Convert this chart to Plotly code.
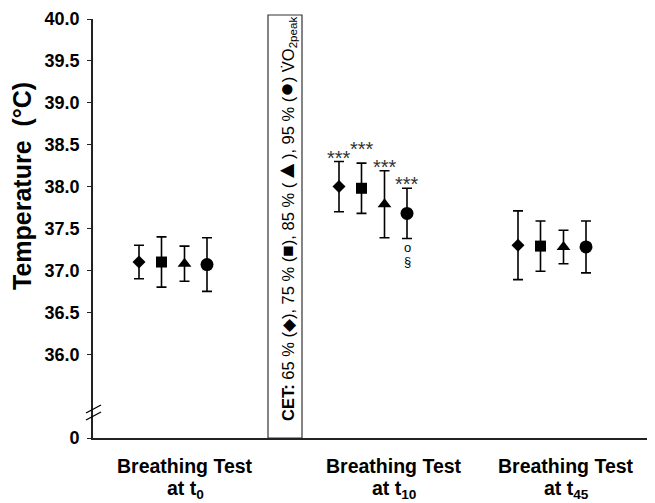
import plotly.graph_objects as go

# ---- data (°C, mean and error) ----
groups = ["t0", "t10", "t45"]
label_line1 = ["Breathing Test", "Breathing Test", "Breathing Test"]
label_line2 = ["at t<sub>0</sub>", "at t<sub>10</sub>", "at t<sub>45</sub>"]
intensity = ["65 %", "75 %", "85 %", "95 %"]

mean_65 = [37.10, 38.00, 37.30]
err_65 = [0.20, 0.30, 0.41]
mean_75 = [37.10, 37.98, 37.29]
err_75 = [0.30, 0.30, 0.30]
mean_85 = [37.08, 37.79, 37.28]
err_85 = [0.21, 0.40, 0.20]
mean_95 = [37.07, 37.68, 37.28]
err_95 = [0.32, 0.30, 0.31]

y_ticks = [36.0, 36.5, 37.0, 37.5, 38.0, 38.5, 39.0, 39.5, 40.0]
y_break_value = 35.0  # axis position used for the "0" label below the break

# ---- layout helpers (pixels, page has an 8 px body margin) ----
PAGE = 8
W, H = 655 - PAGE, 503 - PAGE
PL, PT, PR, PB = 93, 19, 650, 438          # plot area in page pixels
L, T = PL - PAGE, PT - PAGE
R, B = W - (PR - PAGE), H - (PB - PAGE)
PW, PH = PR - PL, PB - PT

group_x = [80, 280, 459]           # x-axis units == pixels from the y axis
offsets = [-34, -11.5, 11.5, 34]
label_x = [92, 301, 473]

def px2paper(px, py):
    return (px - PL) / PW, (PB - py) / PH

series = [
    (mean_65, err_65, "diamond", 10),
    (mean_75, err_75, "square", 11),
    (mean_85, err_85, "triangle-up", 12),
    (mean_95, err_95, "circle", 13),
]

fig = go.Figure()
for i, (m, e, sym, sz) in enumerate(series):
    fig.add_trace(go.Scatter(
        x=[g + offsets[i] for g in group_x], y=m, mode="markers",
        name=intensity[i],
        marker=dict(symbol=sym, size=sz, color="black"),
        error_y=dict(type="data", array=e, visible=True, color="black",
                     thickness=1.6, width=5),
        showlegend=False,
    ))

FONT = "Liberation Sans, Arial, sans-serif"
ann = []
# x group labels (two lines, placed separately for tighter spacing)
_, y_l1 = px2paper(0, 466)
_, y_l2 = px2paper(0, 489)
for gx, l1, l2 in zip(label_x, label_line1, label_line2):
    ann.append(dict(x=gx, y=y_l1, xref="x", yref="paper", yanchor="middle",
                    text="<b>" + l1 + "</b>", showarrow=False, borderpad=0,
                    font=dict(family=FONT, size=19.5, color="black")))
    ann.append(dict(x=gx, y=y_l2, xref="x", yref="paper", yanchor="middle",
                    text="<b>" + l2 + "</b>", showarrow=False, borderpad=0,
                    font=dict(family=FONT, size=19.5, color="black")))
# significance stars at t10
star_shift = [8, 19, 9, 9]
t10 = 1
for i, (m, e, _, _) in enumerate(series):
    ann.append(dict(x=group_x[t10] + offsets[i], y=m[t10] + e[t10], xref="x", yref="y",
                    yanchor="middle", yshift=star_shift[i] - 5, text="***",
                    showarrow=False, font=dict(family=FONT, size=20, color="#333")))
# symbols below 95 % at t10
m95, e95 = series[3][0][t10], series[3][1][t10]
ann.append(dict(x=group_x[t10] + offsets[3], y=m95 - e95, xref="x", yref="y",
                yanchor="middle", yshift=-9, text="o", showarrow=False,
                font=dict(family=FONT, size=13, color="black")))
ann.append(dict(x=group_x[t10] + offsets[3], y=m95 - e95, xref="x", yref="y",
                yanchor="middle", yshift=-23, text="§", showarrow=False,
                font=dict(family=FONT, size=13, color="black")))
# y axis title
tx, ty = px2paper(22, 186)
ann.append(dict(x=tx, y=ty, xref="paper", yref="paper", xanchor="center", yanchor="middle",
                text="<b>Temperature  (°C)</b>", textangle=-90, showarrow=False,
                font=dict(family=FONT, size=25, color="black")))
# CET box text
def sym(s, size):
    return '<span style="font-size:%dpx">%s</span>' % (size, s)
cet_text = ("<b>CET:</b> 65 % (" + sym("◆", 17) + "), 75 % (" + sym("■", 19) + "), 85 % ("
            + sym("▲", 24) + "), 95 % (" + sym("●", 24) + ") V̇O<sub>2peak</sub>")
cx, cy = px2paper(285, 219)
ann.append(dict(x=cx, y=cy, xref="paper", yref="paper", xanchor="center", yanchor="middle",
                text=cet_text, textangle=-90, showarrow=False,
                font=dict(family=FONT, size=16.5, color="black")))

shapes = []
# CET box
x0, _ = px2paper(268, 438)
x1, y1 = px2paper(302, 15)
shapes.append(dict(type="rect", xref="paper", yref="paper", x0=x0, y0=0, x1=x1, y1=y1,
                   line=dict(color="#333", width=1.2), fillcolor="white", layer="below"))
# axis break marks
for dy in (0, 7):
    a = px2paper(86, 413 + dy)
    b = px2paper(101, 405 + dy)
    shapes.append(dict(type="line", xref="paper", yref="paper", x0=a[0], y0=a[1],
                       x1=b[0], y1=b[1], line=dict(color="black", width=1.4)))

fig.update_layout(
    width=W, height=H, margin=dict(l=L, r=R, t=T, b=B, autoexpand=False),
    plot_bgcolor="white", paper_bgcolor="white",
    annotations=ann, shapes=shapes, showlegend=False,
    xaxis=dict(range=[0, PW], showgrid=False, zeroline=False, showticklabels=False,
               ticks="", showline=True, linecolor="#222", linewidth=1.6, fixedrange=True),
    yaxis=dict(range=[y_break_value, 40.0], showgrid=False, zeroline=False,
               tickvals=[y_break_value] + y_ticks,
               ticktext=["0"] + [f"{v:.1f}" for v in y_ticks],
               ticks="outside", ticklen=4, tickwidth=1.4, tickcolor="#222",
               ticklabelstandoff=4, automargin=False,
               showline=True, linecolor="#222", linewidth=1.6,
               tickfont=dict(family=FONT, size=18, color="black", weight="bold")),
)

fig.write_html("out.html")
